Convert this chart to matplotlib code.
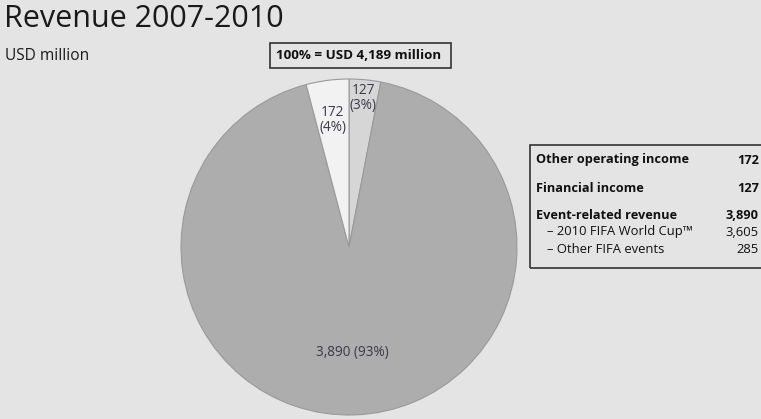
import numpy as np
import matplotlib.pyplot as plt
from matplotlib.patches import Rectangle

# 数据
slice_values = [127, 3890, 172]
slice_colors = ['#d6d6d6', '#adadad', '#f2f2f2']
slice_text = ['127\n(3%)', '3,890 (93%)', '172\n(4%)']
label_dist = [0.89, 0.63, 0.76]

legend_names = ['Other operating income', 'Financial income', 'Event-related revenue',
                '– 2010 FIFA World Cup™', '– Other FIFA events']
legend_values = ['172', '127', '3,890', '3,605', '285']
legend_bold = [True, True, True, False, False]

total_text = '100% = USD 4,189 million'

W, H = 761, 419
bg = '#e4e4e4'
plt.rcParams['font.family'] = ['Open Sans', 'DejaVu Sans']

fig = plt.figure(figsize=(W / 100, H / 100), dpi=100, facecolor=bg)


def fx(px):
    return px / W


def fy(py):
    return 1 - py / H


# 饼图
cx, cy, r = 349, 247, 168
ax = fig.add_axes([fx(cx - r), fy(cy + r), 2 * r / W, 2 * r / H])
ax.set_facecolor(bg)
wedges, _ = ax.pie(slice_values, colors=slice_colors, startangle=90, counterclock=False,
                   wedgeprops=dict(edgecolor='#9a9a9a', linewidth=0.8))
ax.set_xlim(-1, 1)
ax.set_ylim(-1, 1)
ax.axis('off')

for w, txt, d in zip(wedges, slice_text, label_dist):
    ang = np.deg2rad((w.theta1 + w.theta2) / 2)
    ax.text(d * np.cos(ang), d * np.sin(ang), txt, ha='center', va='center',
            fontsize=9.8, color='#3a3a48', linespacing=1.0)

# 标题
fig.text(fx(4), fy(19), 'Revenue 2007-2010', fontsize=22, color='#1a1a1a',
         ha='left', va='center')
fig.text(fx(5), fy(56), 'USD million', fontsize=11.2, color='#1a1a1a',
         ha='left', va='center')

# 总数框
fig.patches.append(Rectangle((fx(270), fy(68)), fx(451) - fx(270), fy(43) - fy(68),
                             transform=fig.transFigure, fill=False,
                             edgecolor='#333333', linewidth=1.2))
fig.text(fx(359), fy(55.5), total_text, fontsize=9.6, fontweight='bold',
         color='#111111', ha='center', va='center')

# 图例框
fig.patches.append(Rectangle((fx(530), fy(268)), fx(770) - fx(530), fy(145) - fy(268),
                             transform=fig.transFigure, fill=False,
                             edgecolor='#333333', linewidth=1.2))
rows_y = [160, 188, 215, 232, 249]
for name, val, bold, y in zip(legend_names, legend_values, legend_bold, rows_y):
    x0 = 536 if bold else 547
    fw = 'bold' if bold else 'normal'
    fs = 9.2 if bold else 9.4
    fig.text(fx(x0), fy(y), name, fontsize=fs, fontweight=fw, color='#111111',
             ha='left', va='center')
    fig.text(fx(759), fy(y), val, fontsize=fs, fontweight=fw, color='#111111',
             ha='right', va='center')

fig.savefig('out.png', dpi=100, facecolor=bg)
